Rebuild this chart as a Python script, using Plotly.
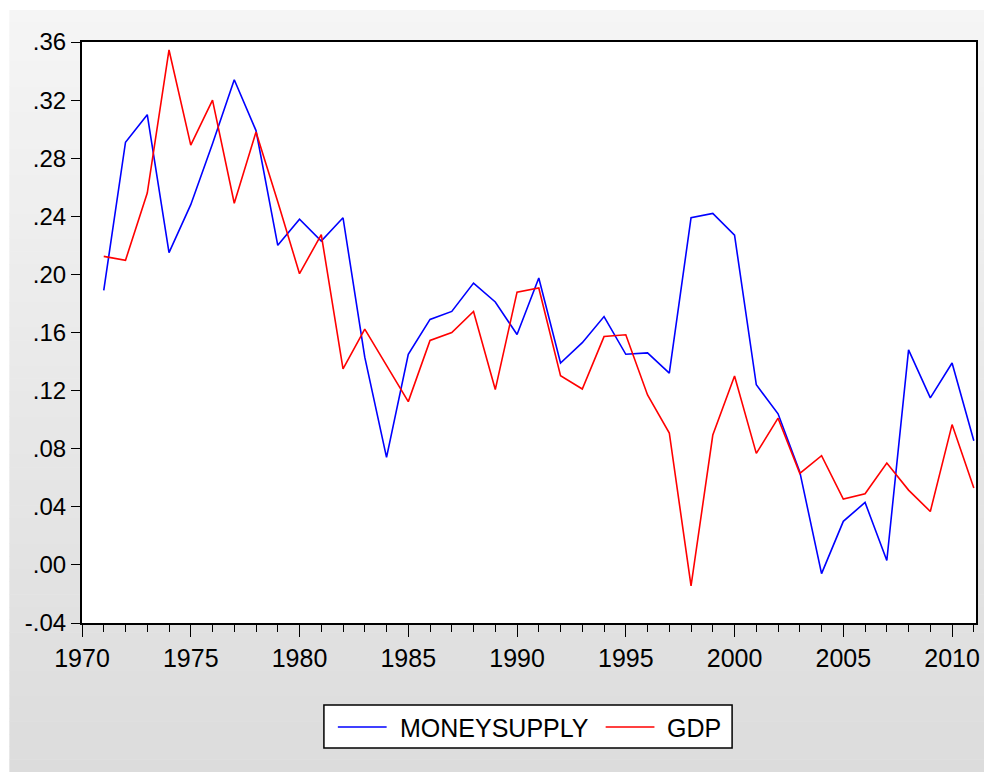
import plotly.graph_objects as go

years = list(range(1971, 2012))
moneysupply = [0.189, 0.291, 0.310, 0.215, 0.248, 0.290, 0.334, 0.299, 0.220, 0.238,
               0.223, 0.239, 0.143, 0.074, 0.145, 0.169, 0.1745, 0.194, 0.181, 0.1586,
               0.1975, 0.139, 0.153, 0.171, 0.145, 0.146, 0.132, 0.239, 0.242, 0.227,
               0.124, 0.104, 0.064, -0.006, 0.030, 0.043, 0.003, 0.148, 0.115, 0.139, 0.0855]
gdp = [0.2124, 0.2097, 0.256, 0.3545, 0.289, 0.320, 0.249, 0.298, 0.250, 0.2005,
       0.2274, 0.135, 0.1623, 0.137, 0.1124, 0.1545, 0.160, 0.1745, 0.1207, 0.1878,
       0.1906, 0.1303, 0.1211, 0.1572, 0.1584, 0.117, 0.0908, -0.0145, 0.0894, 0.130,
       0.0768, 0.101, 0.063, 0.0752, 0.0453, 0.049, 0.0701, 0.0515, 0.0368, 0.0966, 0.0529]
series_names = ["MONEYSUPPLY", "GDP"]
series_colors = ["#0000ff", "#ff0000"]
y_ticks = [-0.04, 0.00, 0.04, 0.08, 0.12, 0.16, 0.20, 0.24, 0.28, 0.32, 0.36]
y_labels = ["-.04", ".00", ".04", ".08", ".12", ".16", ".20", ".24", ".28", ".32", ".36"]
x_ticks = [1970, 1975, 1980, 1985, 1990, 1995, 2000, 2005, 2010]

# page body has an 8px margin; work in figure coordinates (screen - 8)
OFF = 8
W, H = 992 - OFF, 772 - OFF
L, R, T, B = 82 - OFF, 980 - OFF, 42 - OFF, 623 - OFF

def px_x(p):
    return (p - OFF - L) / (R - L)

def px_y(p):
    return (B - (p - OFF)) / (B - T)

fig = go.Figure()
for name, vals, col in zip(series_names, [moneysupply, gdp], series_colors):
    fig.add_trace(go.Scatter(x=years, y=vals, mode="lines", name=name,
                             line=dict(color=col, width=1.6)))

shapes = []
n = 60
top, bot = 10, 772
for i in range(n):
    y0 = top + (bot - top) * i / n
    y1 = top + (bot - top) * (i + 1) / n
    c = int(round(245 - (245 - 220) * (i + 0.5) / n))
    shapes.append(dict(type="rect", xref="paper", yref="paper", layer="below",
                       x0=px_x(9), x1=px_x(1000), y0=px_y(y1 + 0.5), y1=px_y(y0),
                       line=dict(width=0), fillcolor=f"rgb({c},{c},{c})"))
shapes.append(dict(type="rect", xref="paper", yref="paper", layer="below",
                   x0=0, x1=1, y0=0, y1=1, line=dict(width=0), fillcolor="white"))

font = "Liberation Sans, Arial, sans-serif"

# legend box (drawn as shapes + text, EViews style)
shapes.append(dict(type="rect", xref="paper", yref="paper", layer="above",
                   x0=px_x(325), x1=px_x(735), y0=px_y(748), y1=px_y(705),
                   line=dict(color="black", width=1.5), fillcolor="white"))
annotations = []
leg_line_x = [(339, 388), (608, 657)]
leg_text_x = [399, 668]
leg_y = 727
for (lx0, lx1), tx, name, col in zip(leg_line_x, leg_text_x, series_names, series_colors):
    shapes.append(dict(type="line", xref="paper", yref="paper", layer="above",
                       x0=px_x(lx0), x1=px_x(lx1), y0=px_y(leg_y), y1=px_y(leg_y),
                       line=dict(color=col, width=1.6)))
    annotations.append(dict(xref="paper", yref="paper", x=px_x(tx), y=px_y(leg_y + 1),
                            xanchor="left", yanchor="middle", showarrow=False, text=name,
                            font=dict(family=font, size=25, color="black")))

fig.update_layout(
    width=W, height=H,
    margin=dict(l=L, r=W - R, t=T, b=H - B),
    paper_bgcolor="white", plot_bgcolor="white",
    shapes=shapes, annotations=annotations,
    showlegend=False,
    xaxis=dict(range=[1970, 2011.1], tickvals=x_ticks, ticktext=[str(v) for v in x_ticks],
               ticks="outside", ticklen=12, tickwidth=1, tickcolor="black",
               minor=dict(dtick=1, tick0=1970, ticks="outside", ticklen=7, tickcolor="black", tickwidth=1),
               showline=True, linecolor="black", linewidth=2, mirror=True,
               showgrid=False, zeroline=False,
               tickfont=dict(family=font, size=25, color="black")),
    yaxis=dict(range=[-0.04, 0.36], tickvals=y_ticks, ticktext=y_labels,
               ticks="outside", ticklen=9, tickwidth=1, tickcolor="black",
               showline=True, linecolor="black", linewidth=2, mirror=True,
               showgrid=False, zeroline=False,
               tickfont=dict(family=font, size=24, color="black")),
)

fig.write_html("out.html")
